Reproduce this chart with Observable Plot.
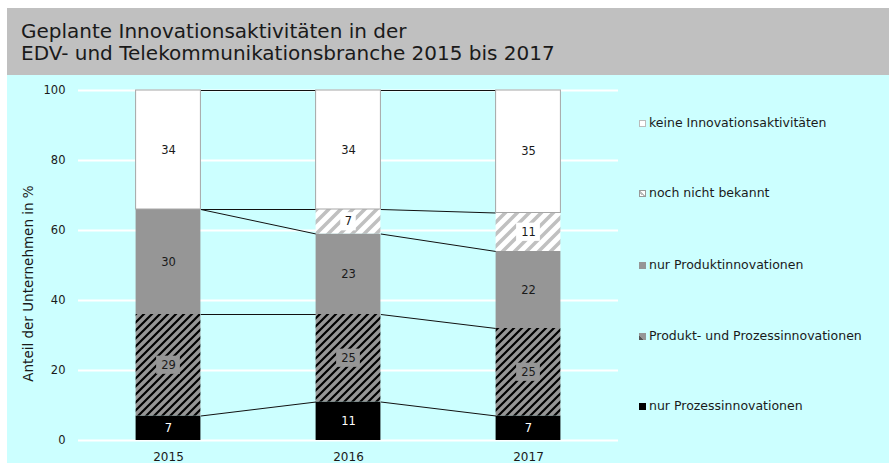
<!DOCTYPE html>
<html>
<head>
<meta charset="utf-8">
<script src="https://cdn.jsdelivr.net/npm/d3@7"></script>
<script src="https://cdn.jsdelivr.net/npm/@observablehq/plot@0.6"></script>
<style>
  html, body { margin: 0; padding: 0; background: #fff; }
  #wrap { position: absolute; left: 7px; top: 8px; width: 882px; height: 455px; font-family: "DejaVu Sans", Verdana, sans-serif; }
  #title { height: 67px; background: #c0c0c0; box-sizing: border-box; padding: 12px 0 0 14px; font-size: 20px; line-height: 22px; color: #1a1a1a; }
  #chart svg { display: block; }
  .leg { position: absolute; left: 632px; font-size: 12.5px; line-height: 16px; color: #1a1a1a; white-space: nowrap; }
  .sw { display: inline-block; width: 7px; height: 7px; box-sizing: border-box; margin-right: 3px; vertical-align: 0px; }
</style>
</head>
<body>
<div id="wrap">
  <div id="title"></div>
  <div id="chart"></div>
</div>
<script>
// ---- data ----
const titleLines = ["Geplante Innovationsaktivitäten in der", "EDV- und Telekommunikationsbranche 2015 bis 2017"];
const years = ["2015", "2016", "2017"];
const seriesNames = ["nur Prozessinnovationen", "Produkt- und Prozessinnovationen", "nur Produktinnovationen", "noch nicht bekannt", "keine Innovationsaktivitäten"];
const nurProzess = [7, 11, 7];
const produktUndProzess = [29, 25, 25];
const nurProdukt = [30, 23, 22];
const nochNicht = [0, 7, 11];
const keine = [34, 34, 35];
const yTicks = [0, 20, 40, 60, 80, 100];
const yLabel = "Anteil der Unternehmen in %";

// ---- styles ----
const seriesFill = ["#000000", "url(#hatchDark)", "#969696", "url(#hatchLight)", "#ffffff"];
const seriesStroke = ["none", "none", "none", "none", "#a6a6a6"];
const labelColor = ["#ffffff", "#1a1a1a", "#1a1a1a", "#1a1a1a", "#1a1a1a"];
const labelBox = [null, "#969696", null, "#ffffff", null];
const legendSwatch = [
  "background:#000;",
  "background:linear-gradient(45deg,#555 0 35%,#969696 35% 100%);",
  "background:#969696;",
  "border:1px solid #999;background:linear-gradient(45deg,#fff 0 30%,#bbb 30% 55%,#fff 55% 100%);",
  "border:1px solid #bbb;background:#fff;"
];
const legendCenters = [398, 328, 257, 185, 115];
const hw = 0.18; // half bar width in band units

document.getElementById("title").innerHTML = titleLines.join("<br>");

const values = [nurProzess, produktUndProzess, nurProdukt, nochNicht, keine];
const rows = [];
years.forEach((yr, i) => {
  let acc = 0;
  values.forEach((arr, s) => {
    rows.push({i, s, v: arr[i], y1: acc, y2: acc + arr[i]});
    acc += arr[i];
  });
});
const stackTop = (s, i) => rows.find(r => r.s === s && r.i === i).y2;
const links = [];
seriesNames.forEach((n, s) => {
  for (let i = 0; i < years.length - 1; i++) {
    links.push({x1: i + hw, x2: i + 1 - hw, y1: stackTop(s, i), y2: stackTop(s, i + 1)});
  }
});

const marks = [
  Plot.ruleY(yTicks, {stroke: "#ffffff", strokeWidth: 2}),
  Plot.link(links, {x1: "x1", x2: "x2", y1: "y1", y2: "y2", stroke: "#111", strokeWidth: 1})
];
seriesNames.forEach((n, s) => {
  marks.push(Plot.rect(rows.filter(r => r.s === s && r.v > 0), {
    x1: d => d.i - hw, x2: d => d.i + hw, y1: "y1", y2: "y2",
    fill: seriesFill[s], stroke: seriesStroke[s], strokeWidth: 1
  }));
});
seriesNames.forEach((n, s) => {
  if (labelBox[s]) {
    marks.push(Plot.rect(rows.filter(r => r.s === s && r.v > 0), {
      x1: d => d.i - (String(d.v).length > 1 ? 0.066 : 0.043),
      x2: d => d.i + (String(d.v).length > 1 ? 0.066 : 0.043),
      y1: d => (d.y1 + d.y2) / 2 - 2.6, y2: d => (d.y1 + d.y2) / 2 + 2.6,
      fill: labelBox[s]
    }));
  }
  marks.push(Plot.text(rows.filter(r => r.s === s && r.v > 0), {
    x: "i", y: d => (d.y1 + d.y2) / 2, text: d => String(d.v),
    fill: labelColor[s], fontSize: 11.5
  }));
});
marks.push(
  Plot.axisY({ticks: yTicks, tickSize: 0, tickPadding: 13, label: null, fontSize: 11.5}),
  Plot.axisX({ticks: [0, 1, 2], tickFormat: i => years[i], tickSize: 0, tickPadding: 12, label: null, fontSize: 12}),
  Plot.text([yLabel], {frameAnchor: "left", textAnchor: "middle", rotate: -90, dx: -50, dy: 18, fontSize: 13.5, fill: "#1a1a1a"})
);

const chart = Plot.plot({
  width: 882, height: 388,
  marginLeft: 71, marginRight: 271, marginTop: 15, marginBottom: 23,
  style: {background: "#ccffff", fontFamily: "DejaVu Sans, Verdana, sans-serif", color: "#1a1a1a"},
  x: {domain: [-0.5, 2.5], axis: null},
  y: {domain: [0, 100], axis: null},
  marks
});

d3.select(chart).insert("defs", ":first-child").html(`
  <pattern id="hatchDark" width="8" height="8" patternUnits="userSpaceOnUse">
    <rect width="8" height="8" fill="#969696"/>
    <path d="M-2,2 L2,-2 M0,8 L8,0 M6,10 L10,6" stroke="#000" stroke-width="2.2"/>
  </pattern>
  <pattern id="hatchLight" width="12" height="12" patternUnits="userSpaceOnUse">
    <rect width="12" height="12" fill="#ffffff"/>
    <path d="M-3,3 L3,-3 M0,12 L12,0 M9,15 L15,9" stroke="#c0c0c0" stroke-width="3.5"/>
  </pattern>`);
document.getElementById("chart").appendChild(chart);

const wrap = document.getElementById("wrap");
seriesNames.forEach((n, s) => {
  const div = document.createElement("div");
  div.className = "leg";
  div.style.top = (legendCenters[s] - 8) + "px";
  div.innerHTML = `<span class="sw" style="${legendSwatch[s]}"></span>${n}`;
  wrap.appendChild(div);
});
</script>
</body>
</html>
